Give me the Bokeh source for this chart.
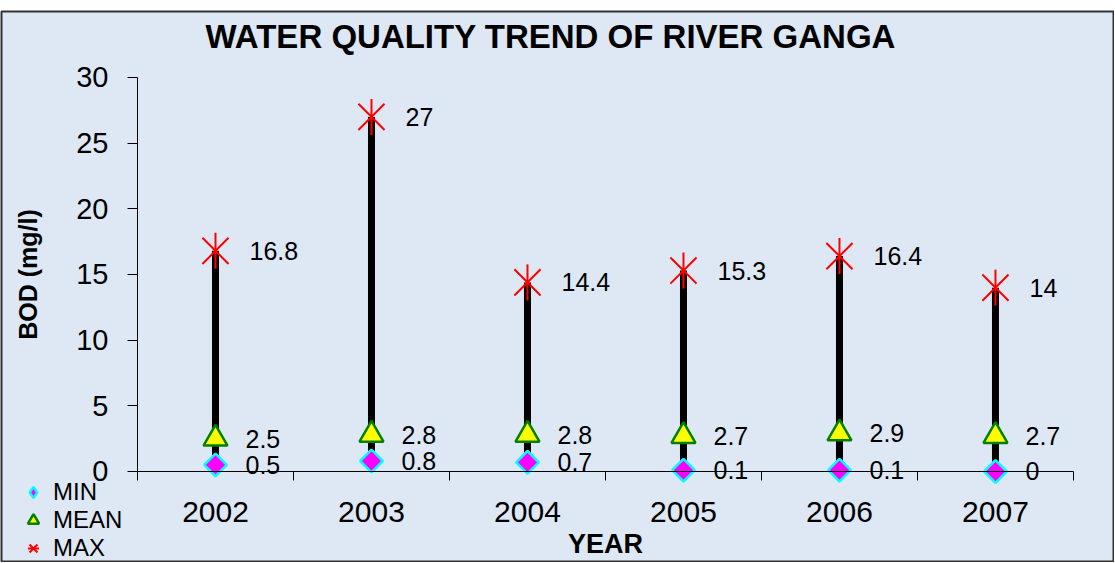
import math
from bokeh.plotting import figure
from bokeh.models import Range1d, FixedTicker, Legend, LegendItem, Label
from bokeh.core.properties import value
from bokeh.embed import file_html
from bokeh.resources import INLINE

years = ["2002", "2003", "2004", "2005", "2006", "2007"]
min_vals = [0.5, 0.8, 0.7, 0.1, 0.1, 0]
mean_vals = [2.5, 2.8, 2.8, 2.7, 2.9, 2.7]
max_vals = [16.8, 27, 14.4, 15.3, 16.4, 14]
y_ticks = [0, 5, 10, 15, 20, 25, 30]
title_text = "WATER QUALITY TREND OF RIVER GANGA"

xs = [i + 0.5 for i in range(len(years))]
bounds = list(range(len(years) + 1))

FONT = "Liberation Sans"
BG = "#dde8f4"

# frame covers the whole canvas; axes are pinned at 0 so markers on 0 are not cut
p = figure(width=1114, height=562,
           x_range=Range1d(-0.8718, 6.263), y_range=Range1d(-6.929, 35.025),
           output_backend="svg", toolbar_location=None,
           min_border_left=1, min_border_right=0, min_border_top=11, min_border_bottom=0,
           background_fill_color=BG, border_fill_color="white",
           outline_line_color="#333333", outline_line_width=2)

p.xgrid.visible = False
p.ygrid.visible = False

# y axis
p.yaxis.fixed_location = 0
p.yaxis.bounds = (0, 30)
p.yaxis.ticker = FixedTicker(ticks=y_ticks)
p.yaxis.major_tick_out = 10
p.yaxis.major_tick_in = 0
p.yaxis.minor_tick_out = 0
p.yaxis.minor_tick_in = 0
p.yaxis.axis_line_color = "black"
p.yaxis.major_tick_line_color = "black"
p.yaxis.major_label_text_font = FONT
p.yaxis.major_label_text_font_size = "29px"
p.yaxis.major_label_text_color = "black"
p.yaxis.major_label_standoff = 19
p.yaxis.axis_label = "BOD (mg/l)"
p.yaxis.axis_label_text_font = FONT
p.yaxis.axis_label_text_font_size = "25px"
p.yaxis.axis_label_text_font_style = "bold"
p.yaxis.axis_label_text_color = "black"
p.yaxis.axis_label_standoff = 31

# x axis
p.xaxis.fixed_location = 0
p.xaxis.bounds = (0, len(years))
p.xaxis.ticker = FixedTicker(ticks=xs, minor_ticks=bounds)
p.xaxis.major_label_overrides = {x: y for x, y in zip(xs, years)}
p.xaxis.major_tick_out = 0
p.xaxis.major_tick_in = 0
p.xaxis.minor_tick_out = 9
p.xaxis.minor_tick_in = 0
p.xaxis.minor_tick_line_color = "black"
p.xaxis.axis_line_color = "black"
p.xaxis.major_label_text_font = FONT
p.xaxis.major_label_text_font_size = "30px"
p.xaxis.major_label_text_color = "black"
p.xaxis.major_label_standoff = 22
p.xaxis.axis_label = "YEAR"
p.xaxis.axis_label_text_font = FONT
p.xaxis.axis_label_text_font_size = "27px"
p.xaxis.axis_label_text_font_style = "bold"
p.xaxis.axis_label_text_color = "black"
p.xaxis.axis_label_standoff = 3

# high-low lines
p.segment(x0=xs, y0=min_vals, x1=xs, y1=max_vals, line_color="black", line_width=7)

# diamond key glyph for the legend (drawn underneath the larger MIN markers)
r_min_key = p.scatter(xs, min_vals, marker="diamond", size=16,
                      fill_color="#ff00ff", line_color="#00ffff", line_width=2.5)
r_min = p.scatter(xs, min_vals, marker="square", angle=math.pi / 4, size=16,
                  fill_color="#ff00ff", line_color="#00ffff", line_width=2.5)
r_mean = p.scatter(xs, mean_vals, marker="triangle", size=24,
                   fill_color="#ffff00", line_color="#008000", line_width=2.5)
r_max1 = p.scatter(xs, max_vals, marker="x", size=37, line_color="#ff0000", line_width=2)
r_max2 = p.scatter(xs, max_vals, marker="dash", angle=math.pi / 2, size=36,
                   line_color="#ff0000", line_width=2)

def fmt(v):
    return f"{v:g}"

for vals, dx in ((min_vals, 30), (mean_vals, 30), (max_vals, 34)):
    p.text(xs, vals, text=[fmt(v) for v in vals], x_offset=dx, text_baseline="middle",
           text_align="left", text_font=value(FONT), text_font_size="25px", text_color="black")

p.add_layout(Label(x=204, y=526, x_units="screen", y_units="screen", text=title_text,
                   text_font=FONT, text_font_size="33px", text_font_style="bold",
                   text_color="black", text_baseline="alphabetic"))

legend = Legend(items=[LegendItem(label="MIN", renderers=[r_min_key]),
                       LegendItem(label="MEAN", renderers=[r_mean]),
                       LegendItem(label="MAX", renderers=[r_max1, r_max2])],
                location=(18, 0), orientation="vertical",
                background_fill_alpha=0, border_line_color=None,
                label_text_font=FONT, label_text_font_size="24px", label_text_color="black",
                glyph_width=28, glyph_height=28, label_height=24, spacing=0,
                padding=0, margin=0, label_standoff=6)
p.add_layout(legend, "center")

open("out.html", "w").write(file_html(p, INLINE))
